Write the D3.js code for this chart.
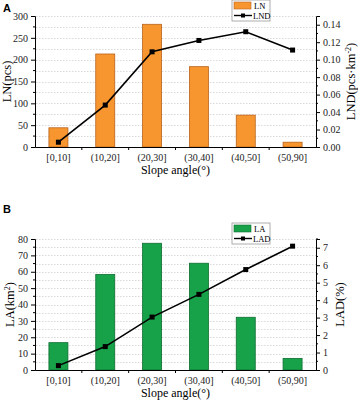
<!DOCTYPE html>
<html lang="en">
<head>
  <meta charset="UTF-8">
  <script src="https://d3js.org/d3.v7.min.js"></script>
  <style>
    body { margin: 0; background: #fff; }
    svg { display: block; }
  </style>
</head>
<body>
  <svg id="chart"></svg>

  <script>
    // slope classes on the x axis
    const categories = ["[0,10]", "(10,20]", "(20,30]", "(30,40]", "(40,50]", "(50,90]"];

    // panel A: landslide number and number density
    const lnValues = [44, 213, 281, 184, 73, 11];
    const lndValues = [0.0055, 0.048, 0.109, 0.122, 0.132, 0.111];

    // panel B: landslide area and area density
    const laValues = [16.7, 58.4, 77.4, 65.2, 32.2, 7.1];
    const ladValues = [0.25, 1.34, 3.03, 4.33, 5.75, 7.09];

    const leftTicksA = [0, 50, 100, 150, 200, 250, 300];
    const rightTicksA = [0, 0.02, 0.04, 0.06, 0.08, 0.10, 0.12, 0.14];
    const leftTicksB = [0, 10, 20, 30, 40, 50, 60, 70, 80];
    const rightTicksB = [0, 1, 2, 3, 4, 5, 6, 7];

    const width = 358;
    const height = 400;
    const serif = "'Liberation Serif', 'Times New Roman', serif";

    const svg = d3.select("#chart")
      .attr("width", width)
      .attr("height", height);

    function drawPanel(opt) {
      const g = svg.append("g");
      const left = 35, right = 316;

      const x = d3.scaleBand()
        .domain(categories)
        .range([left, right]);

      const yL = d3.scaleLinear().domain(opt.leftDomain).range([opt.bottom, opt.top]);
      const yR = d3.scaleLinear().domain(opt.rightDomain).range([opt.bottom, opt.top]);

      // dotted grid on every minor step
      g.append("g")
        .selectAll("line")
        .data(d3.range(opt.leftDomain[0] + opt.minorStep, opt.leftDomain[1] + 0.001, opt.minorStep))
        .join("line")
        .attr("x1", left + 1)
        .attr("x2", right)
        .attr("y1", d => Math.round(yL(d)) + 0.5)
        .attr("y2", d => Math.round(yL(d)) + 0.5)
        .attr("stroke", "#cfcfcf")
        .attr("stroke-width", 0.8)
        .attr("stroke-dasharray", "1.5,1.5");

      // bars
      const bw = 19;
      g.append("g")
        .selectAll("rect")
        .data(opt.bars)
        .join("rect")
        .attr("x", (d, i) => x(categories[i]) + x.bandwidth() / 2 - bw / 2)
        .attr("y", d => yL(d))
        .attr("width", bw)
        .attr("height", d => yL(0) - yL(d))
        .attr("fill", opt.barColor)
        .attr("stroke", opt.barStroke)
        .attr("stroke-width", 0.8);

      // line + markers
      const line = d3.line()
        .x((d, i) => x(categories[i]) + x.bandwidth() / 2)
        .y(d => yR(d));

      g.append("path")
        .datum(opt.line)
        .attr("d", line)
        .attr("fill", "none")
        .attr("stroke", "#000")
        .attr("stroke-width", 1.6);

      g.append("g")
        .selectAll("rect")
        .data(opt.line)
        .join("rect")
        .attr("x", (d, i) => x(categories[i]) + x.bandwidth() / 2 - 2.5)
        .attr("y", d => yR(d) - 2.5)
        .attr("width", 5)
        .attr("height", 5)
        .attr("fill", "#000");

      // left axis
      const lStep = opt.leftTicks[1] - opt.leftTicks[0];
      const axL = g.append("g")
        .attr("transform", `translate(${left},0)`)
        .call(d3.axisLeft(yL).tickValues(opt.leftTicks).tickSize(4).tickPadding(3));
      axL.append("g")
        .selectAll("line")
        .data(opt.leftTicks.slice(0, -1).map(d => d + lStep / 2))
        .join("line")
        .attr("x1", -2).attr("x2", 0)
        .attr("y1", d => yL(d)).attr("y2", d => yL(d))
        .attr("stroke", "#000");

      // right axis
      const axR = g.append("g")
        .attr("transform", `translate(${right},0)`)
        .call(d3.axisRight(yR).tickValues(opt.rightTicks).tickSize(4).tickPadding(3).tickFormat(opt.rightFormat));
      const rStep = opt.rightTicks[1] - opt.rightTicks[0];
      axR.append("g")
        .selectAll("line")
        .data(opt.rightTicks.map(d => d + rStep / 2).filter(d => d <= opt.rightDomain[1]))
        .join("line")
        .attr("x1", 0).attr("x2", 2)
        .attr("y1", d => yR(d)).attr("y2", d => yR(d))
        .attr("stroke", "#000");

      // bottom axis: labels at centres, ticks at boundaries
      const axB = g.append("g")
        .attr("transform", `translate(0,${opt.bottom})`)
        .call(d3.axisBottom(x).tickSize(0).tickPadding(7).tickSizeOuter(0));
      axB.append("g")
        .selectAll("line")
        .data(categories.slice(1))
        .join("line")
        .attr("x1", d => x(d)).attr("x2", d => x(d))
        .attr("y1", 0).attr("y2", 3)
        .attr("stroke", "#000");

      [axL, axR, axB].forEach(a => {
        a.selectAll("text")
          .style("font-family", serif)
          .style("font-size", "10px")
          .attr("fill", "#222");
        a.selectAll("path, line").attr("stroke-width", 1);
      });

      // axis titles
      g.append("text")
        .attr("x", (left + right) / 2)
        .attr("y", opt.bottom + opt.xTitleDy)
        .attr("text-anchor", "middle")
        .style("font-family", serif)
        .style("font-size", "12px")
        .text("Slope angle(°)");

      g.append("text")
        .attr("transform", `translate(${opt.leftTitleX},${(opt.top + opt.bottom) / 2}) rotate(-90)`)
        .attr("text-anchor", "middle")
        .style("font-family", serif)
        .style("font-size", "12.5px")
        .html(opt.leftTitle);

      g.append("text")
        .attr("transform", `translate(${opt.rightTitleX},${(opt.top + opt.bottom) / 2}) rotate(-90)`)
        .attr("text-anchor", "middle")
        .style("font-family", serif)
        .style("font-size", "12.5px")
        .html(opt.rightTitle);

      // panel letter
      g.append("text")
        .attr("x", 3)
        .attr("y", opt.letterY)
        .style("font-family", "'Liberation Sans', Arial, sans-serif")
        .style("font-weight", "bold")
        .style("font-size", "11px")
        .text(opt.letter);

      // legend
      const lg = g.append("g").attr("transform", `translate(232,${opt.legendY})`);
      lg.append("rect")
        .attr("width", 38).attr("height", 21)
        .attr("fill", "#fff")
        .attr("stroke", "#999")
        .attr("stroke-width", 0.8);
      lg.append("rect")
        .attr("x", 2).attr("y", 2)
        .attr("width", 17).attr("height", 7)
        .attr("fill", opt.barColor)
        .attr("stroke", opt.barStroke)
        .attr("stroke-width", 0.6);
      lg.append("line")
        .attr("x1", 2).attr("x2", 20)
        .attr("y1", 15.5).attr("y2", 15.5)
        .attr("stroke", "#000").attr("stroke-width", 1.4);
      lg.append("rect")
        .attr("x", 9).attr("y", 13.5)
        .attr("width", 4).attr("height", 4)
        .attr("fill", "#000");
      lg.append("text")
        .attr("x", 22).attr("y", 9)
        .style("font-family", serif).style("font-size", "8.5px")
        .text(opt.barName);
      lg.append("text")
        .attr("x", 21).attr("y", 18.5)
        .style("font-family", serif).style("font-size", "8.5px")
        .text(opt.lineName);
    }

    drawPanel({
      top: 16, bottom: 147,
      leftDomain: [0, 300], rightDomain: [0, 0.15],
      leftTicks: leftTicksA, rightTicks: rightTicksA,
      minorStep: 25,
      rightFormat: d3.format(".2f"),
      bars: lnValues, line: lndValues,
      barColor: "#f7962f", barStroke: "#b8631c",
      leftTitle: "LN(pcs)", leftTitleX: 11,
      rightTitle: "LND(pcs·km<tspan dy='-4' font-size='8px'>-2</tspan><tspan dy='4'>)</tspan>",
      rightTitleX: 355,
      xTitleDy: 27,
      letter: "A", letterY: 12, legendY: 0,
      barName: "LN", lineName: "LND"
    });

    drawPanel({
      top: 239, bottom: 370,
      leftDomain: [0, 80], rightDomain: [0, 7.5],
      leftTicks: leftTicksB, rightTicks: rightTicksB,
      minorStep: 5,
      rightFormat: d3.format("d"),
      bars: laValues, line: ladValues,
      barColor: "#17a24a", barStroke: "#0e6e30",
      leftTitle: "LA(km<tspan dy='-4' font-size='8px'>2</tspan><tspan dy='4'>)</tspan>",
      leftTitleX: 14,
      rightTitle: "LAD(%)",
      rightTitleX: 344,
      xTitleDy: 26.5,
      letter: "B", letterY: 213, legendY: 223,
      barName: "LA", lineName: "LAD"
    });
  </script>
</body>
</html>
